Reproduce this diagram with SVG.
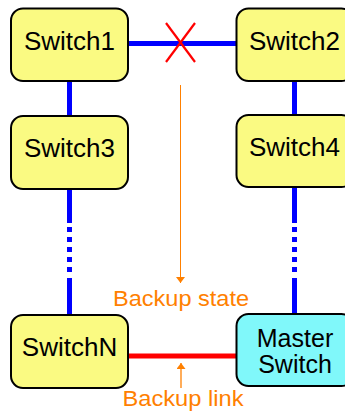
<svg xmlns="http://www.w3.org/2000/svg" width="345" height="413" viewBox="0 0 345 413">
<defs>
<style>
.box{stroke:#000;stroke-width:2}
.sw{fill:#FAFA82}
.ms{fill:#80F8FA}
.lbl{font-family:"Liberation Sans",Arial,sans-serif;font-size:26px;fill:#000;text-anchor:middle}
.lbl2{font-family:"Liberation Sans",Arial,sans-serif;font-size:25px;fill:#000;text-anchor:middle}
.or{font-family:"Liberation Sans",Arial,sans-serif;font-size:22px;fill:#FF8000;text-anchor:middle}
.blue{stroke:#0000FF;stroke-width:5;fill:none}
.dash{stroke:#0000FF;stroke-width:5;fill:none;stroke-dasharray:5 5}
</style>
<marker id="ah" viewBox="0 0 6 9" refX="6" refY="4.5" markerWidth="6" markerHeight="9" orient="auto" markerUnits="userSpaceOnUse">
<path d="M0,0 L6,4.5 L0,9 Z" fill="#FF8000"/>
</marker>
</defs>
<g id="connectors">
<line class="blue" x1="128" y1="43.5" x2="237" y2="43.5"/>
<line class="blue" x1="69.5" y1="81" x2="69.5" y2="116"/>
<line class="blue" x1="294.5" y1="81" x2="294.5" y2="115"/>
<line class="blue" x1="69.5" y1="189" x2="69.5" y2="223"/>
<line class="dash" x1="69.5" y1="227" x2="69.5" y2="274"/>
<line class="blue" x1="69.5" y1="278" x2="69.5" y2="315"/>
<line class="blue" x1="294.5" y1="187" x2="294.5" y2="223"/>
<line class="dash" x1="294.5" y1="227" x2="294.5" y2="274"/>
<line class="blue" x1="294.5" y1="278" x2="294.5" y2="314"/>
<line x1="128" y1="356" x2="237" y2="356" stroke="#FF0000" stroke-width="5"/>
<g stroke="#FF0000" stroke-width="2.2">
<line x1="166" y1="23" x2="195" y2="62"/>
<line x1="195" y1="23" x2="166" y2="62"/>
</g>
<line x1="180.5" y1="85" x2="180.5" y2="283" stroke="#FF8000" stroke-width="1" marker-end="url(#ah)"/>
<line x1="181" y1="388" x2="181" y2="363" stroke="#FF8000" stroke-width="1.3" marker-end="url(#ah)"/>
</g>
<g id="switch1">
<rect class="box sw" x="11" y="8.5" width="117" height="72.5" rx="12"/>
<text class="lbl" x="69.5" y="49.5">Switch1</text>
</g>
<g id="switch2">
<rect class="box sw" x="236.5" y="8.5" width="117" height="72.5" rx="12"/>
<text class="lbl" x="294.5" y="49.5">Switch2</text>
</g>
<g id="switch3">
<rect class="box sw" x="11" y="116" width="117" height="73" rx="12"/>
<text class="lbl" x="69.5" y="157">Switch3</text>
</g>
<g id="switch4">
<rect class="box sw" x="236.5" y="115" width="117" height="72" rx="12"/>
<text class="lbl" x="294.5" y="156">Switch4</text>
</g>
<g id="switchN">
<rect class="box sw" x="11" y="315" width="117" height="73" rx="12"/>
<text class="lbl" x="69.5" y="356">SwitchN</text>
</g>
<g id="master">
<rect class="box ms" x="236.5" y="314" width="117" height="72" rx="12"/>
<text class="lbl2" x="295" y="346.5">Master</text>
<text class="lbl2" x="295" y="373">Switch</text>
</g>
<g id="labels">
<text class="or" x="181" y="306" textLength="136" lengthAdjust="spacingAndGlyphs">Backup state</text>
<text class="or" x="183" y="406" textLength="121" lengthAdjust="spacingAndGlyphs">Backup link</text>
</g>
</svg>
